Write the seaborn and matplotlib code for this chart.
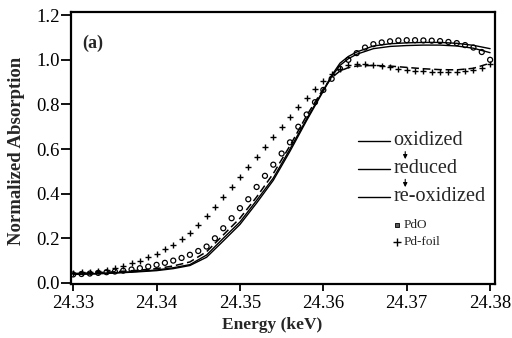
import numpy as np
import pandas as pd
import matplotlib
matplotlib.use("Agg")
import matplotlib.pyplot as plt
import seaborn as sns

# ---- data -------------------------------------------------------------
energy_line = [24.330, 24.3325, 24.335, 24.3375, 24.340, 24.342, 24.344, 24.346,
               24.348, 24.350, 24.352, 24.354, 24.356, 24.358, 24.360, 24.361,
               24.362, 24.363, 24.364, 24.366, 24.368, 24.370, 24.372, 24.374,
               24.376, 24.378, 24.380]
oxidized = [0.040, 0.042, 0.046, 0.051, 0.058, 0.068, 0.082, 0.125,
            0.200, 0.273, 0.370, 0.470, 0.600, 0.735, 0.864, 0.930,
            0.985, 1.015, 1.035, 1.062, 1.072, 1.076, 1.078, 1.078,
            1.074, 1.065, 1.050]
reduced = [0.042, 0.045, 0.050, 0.056, 0.064, 0.076, 0.094, 0.140,
           0.215, 0.290, 0.385, 0.490, 0.615, 0.750, 0.870, 0.920,
           0.950, 0.965, 0.972, 0.975, 0.972, 0.966, 0.960, 0.956,
           0.955, 0.962, 0.985]
reoxidized = [0.038, 0.040, 0.044, 0.049, 0.055, 0.064, 0.078, 0.115,
              0.188, 0.262, 0.358, 0.460, 0.590, 0.728, 0.860, 0.925,
              0.975, 1.005, 1.025, 1.050, 1.060, 1.064, 1.066, 1.066,
              1.062, 1.052, 1.032]

energy_ref = [24.330, 24.331, 24.332, 24.333, 24.334, 24.335, 24.336, 24.337,
              24.338, 24.339, 24.340, 24.341, 24.342, 24.343, 24.344, 24.345,
              24.346, 24.347, 24.348, 24.349, 24.350, 24.351, 24.352, 24.353,
              24.354, 24.355, 24.356, 24.357, 24.358, 24.359, 24.360, 24.361,
              24.362, 24.363, 24.364, 24.365, 24.366, 24.367, 24.368, 24.369,
              24.370, 24.371, 24.372, 24.373, 24.374, 24.375, 24.376, 24.377,
              24.378, 24.379, 24.380]
pdo = [0.038, 0.040, 0.042, 0.045, 0.048, 0.051, 0.055, 0.060,
       0.066, 0.073, 0.081, 0.090, 0.100, 0.112, 0.126, 0.143,
       0.163, 0.200, 0.245, 0.290, 0.335, 0.375, 0.430, 0.480,
       0.530, 0.580, 0.630, 0.700, 0.755, 0.810, 0.865, 0.915,
       0.960, 1.000, 1.030, 1.055, 1.070, 1.078, 1.083, 1.087,
       1.088, 1.088, 1.087, 1.086, 1.084, 1.080, 1.075, 1.066,
       1.055, 1.035, 1.000]
pd_foil = [0.045, 0.047, 0.050, 0.055, 0.060, 0.068, 0.077, 0.088,
           0.100, 0.115, 0.130, 0.150, 0.170, 0.195, 0.225, 0.260,
           0.300, 0.340, 0.385, 0.430, 0.475, 0.520, 0.565, 0.610,
           0.655, 0.700, 0.745, 0.790, 0.830, 0.870, 0.905, 0.935,
           0.960, 0.975, 0.982, 0.982, 0.978, 0.972, 0.966, 0.960,
           0.956, 0.952, 0.949, 0.947, 0.946, 0.946, 0.947, 0.950,
           0.955, 0.965, 0.980]

x_ticks = [24.33, 24.34, 24.35, 24.36, 24.37, 24.38]
x_tick_labels = ["24.33", "24.34", "24.35", "24.36", "24.37", "24.38"]
y_ticks = [0.0, 0.2, 0.4, 0.6, 0.8, 1.0, 1.2]
y_tick_labels = ["0.0", "0.2", "0.4", "0.6", "0.8", "1.0", "1.2"]

# ---- style ------------------------------------------------------------
sns.set_style("ticks")
plt.rcParams['font.family'] = ['Liberation Serif', 'DejaVu Serif']

fig = plt.figure(figsize=(5.12, 3.38), dpi=100)
ax = fig.add_axes([0.139, 0.160, 0.828, 0.804])

sns.lineplot(x=energy_line, y=oxidized, ax=ax, color="black", linewidth=1.0)
sns.lineplot(x=energy_line, y=reoxidized, ax=ax, color="black", linewidth=1.0)
sns.lineplot(x=energy_line, y=reduced, ax=ax, color="black", linewidth=1.1,
             linestyle=(0, (5, 2.5)))
sns.scatterplot(x=energy_ref, y=pdo, ax=ax, marker="o", s=13,
                facecolor="none", edgecolor="black", linewidth=0.9, zorder=3)
sns.scatterplot(x=energy_ref, y=pd_foil, ax=ax, marker="+", s=22,
                color="black", linewidth=1.0, zorder=3)

ax.set_xlim(24.32976, 24.3806)
ax.set_ylim(-0.0045, 1.2136)
ax.set_xticks(x_ticks)
ax.set_xticklabels(x_tick_labels)
ax.set_yticks(y_ticks)
ax.set_yticklabels(y_tick_labels)
ax.tick_params(axis="both", direction="out", width=1.3,
               labelsize=13.5, colors="black")
ax.tick_params(axis="x", length=5, pad=3)
ax.tick_params(axis="y", length=7, pad=1)
for s in ax.spines.values():
    s.set_visible(True)
    s.set_linewidth(1.6)
    s.set_color("black")

ax.set_xlabel("Energy (keV)", fontsize=12.5, fontweight="bold")
ax.set_ylabel("Normalized Absorption", fontsize=13.5, fontweight="bold")
ax.xaxis.set_label_coords(0.474, -0.12)
ax.yaxis.set_label_coords(-0.11, 0.49)

ax.text(0.025, 0.886, "(a)", transform=ax.transAxes, fontsize=13,
        fontweight="bold", ha="left", va="center")

# ---- legend (drawn manually) ------------------------------------------
leg_labels = ["oxidized", "reduced", "re-oxidized"]
leg_y = [0.526, 0.423, 0.320]
for lab, yy in zip(leg_labels, leg_y):
    ax.plot([0.677, 0.752], [yy, yy], transform=ax.transAxes,
            color="black", linewidth=1.0)
    ax.text(0.760, yy, lab, transform=ax.transAxes, fontsize=14.5,
            ha="left", va="center")
for y0, y1 in [(0.497, 0.449), (0.395, 0.346)]:
    ax.annotate("", xy=(0.788, y1), xytext=(0.788, y0),
                xycoords=ax.transAxes, textcoords=ax.transAxes,
                arrowprops=dict(arrowstyle="-|>", color="black", lw=0.8,
                                mutation_scale=6))
ax.scatter([0.769], [0.217], transform=ax.transAxes, marker="s", s=12,
           facecolor="0.35", edgecolor="black", linewidth=0.6)
ax.text(0.785, 0.217, "PdO", transform=ax.transAxes, fontsize=9.5,
        ha="left", va="center")
ax.scatter([0.769], [0.154], transform=ax.transAxes, marker="+", s=30,
           color="black", linewidth=1.0)
ax.text(0.785, 0.154, "Pd-foil", transform=ax.transAxes, fontsize=9.5,
        ha="left", va="center")

fig.savefig("out.png", dpi=100)
